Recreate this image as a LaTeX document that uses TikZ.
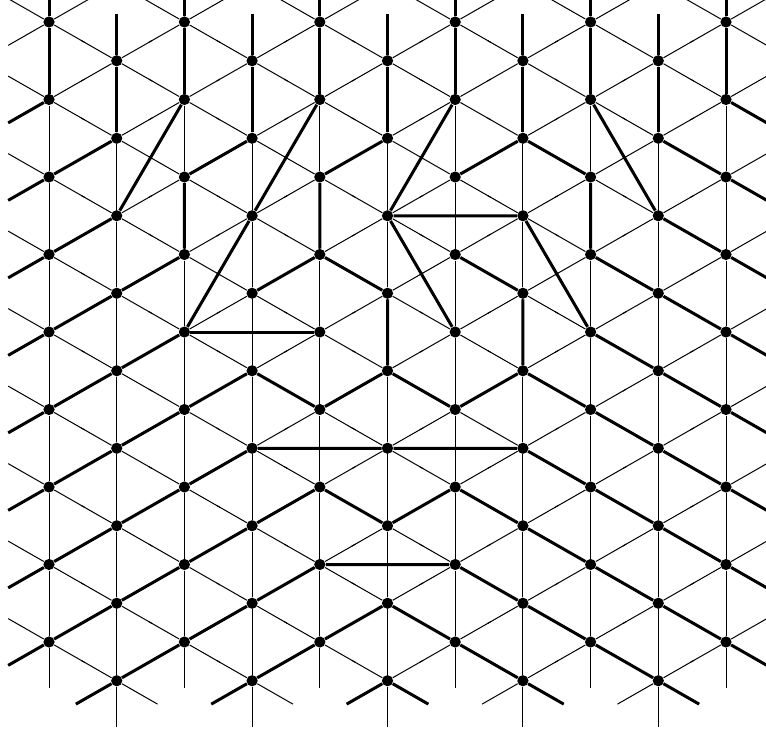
\documentclass[tikz,border=0pt]{standalone}
\usepackage{tikz}

\tikzset{
  lattice/.style={line width=0.5pt},
  bond/.style={line width=1.5pt},
  loose/.style={shorten >=15.5pt},
  dot/.style={circle,fill=black,inner sep=0pt,minimum size=5.6pt},
}

\begin{document}
\begin{tikzpicture}[x=33.85pt,y=-19.375pt]
  \useasboundingbox (-0.724,-0.568) rectangle (10.591,18.374);
  \clip (-0.724,-0.568) rectangle (10.591,18.374);
  % points of the lattice, with a ring of ghost points round them
  \foreach \i in {-1,...,11}
    \foreach \r in {-1,...,9} {
      \pgfmathtruncatemacro{\k}{2*\r+mod(\i+2,2)}
      \coordinate (v\i-\k) at (\i,\k);
    }
  \foreach \i in {0,...,10}
    \foreach \r in {0,...,8} {
      \pgfmathtruncatemacro{\k}{2*\r+mod(\i,2)}
      \node[dot] (v\i-\k) at (\i,\k) {};
    }
  % thin lattice: half edges from every point
  \foreach \i in {0,...,10}
    \foreach \r in {0,...,8}
      \foreach \di/\dk in {0/2,0/-2,1/1,1/-1,-1/1,-1/-1} {
        \pgfmathtruncatemacro{\k}{2*\r+mod(\i,2)}
        \pgfmathtruncatemacro{\ni}{\i+\di}
        \pgfmathtruncatemacro{\nk}{\k+\dk}
        \draw[lattice,loose] (v\i-\k) -- (v\ni-\nk);
      }
  % top row
  \foreach \i in {0,2,...,10} {
    \draw[bond] (v\i-0) -- (v\i-2);
    \draw[bond,loose] (v\i-0) -- (v\i--2);
  }
  \foreach \i in {1,3,...,9} {
    \draw[bond] (v\i-1) -- (v\i-3);
    \draw[bond,loose] (v\i-1) -- (v\i--1);
  }
  % left part
  \draw[bond] (v1-3) -- (v0-4);
  \draw[bond] (v2-2) -- (v1-5) -- (v0-6);
  \draw[bond] (v3-3) -- (v2-4) -- (v2-6) -- (v1-7) -- (v0-8);
  \draw[bond] (v4-2) -- (v3-5) -- (v2-8) -- (v1-9) -- (v0-10);
  \draw[bond] (v2-8) -- (v4-8);
  \draw[bond] (v5-3) -- (v4-4) -- (v4-6) -- (v3-7);
  \draw[bond] (v4-6) -- (v5-7) -- (v5-9) -- (v4-10) -- (v3-9) -- (v2-10)
    -- (v1-11) -- (v0-12);
  \draw[bond] (v5-9) -- (v6-10) -- (v7-9) -- (v7-7) -- (v6-6);
  \draw[bond] (v7-9) -- (v8-10) -- (v9-11) -- (v10-12);
  % lower part
  \draw[bond] (v0-14) -- (v1-13) -- (v2-12) -- (v3-11) -- (v5-11) -- (v7-11)
    -- (v8-12) -- (v9-13) -- (v10-14);
  \draw[bond] (v0-16) -- (v1-15) -- (v2-14) -- (v3-13) -- (v4-12) -- (v5-13)
    -- (v6-12) -- (v7-13) -- (v8-14) -- (v9-15) -- (v10-16);
  \draw[bond] (v1-17) -- (v2-16) -- (v3-15) -- (v4-14) -- (v6-14) -- (v7-15)
    -- (v8-16) -- (v9-17);
  \draw[bond] (v3-17) -- (v4-16) -- (v5-15) -- (v6-16) -- (v7-17);
  % right part
  \draw[bond] (v6-2) -- (v5-5) -- (v7-5) -- (v8-8) -- (v9-9) -- (v10-10);
  \draw[bond] (v5-5) -- (v6-8);
  \draw[bond] (v6-4) -- (v7-3) -- (v8-4) -- (v8-6) -- (v9-7) -- (v10-8);
  \draw[bond] (v8-2) -- (v9-5) -- (v10-6);
  \draw[bond] (v9-3) -- (v10-4);
  % loose ends at the rim
  \foreach \a/\b in {0-2/-1-3, 0-4/-1-5, 0-6/-1-7, 0-8/-1-9, 0-10/-1-11,
      0-12/-1-13, 0-14/-1-15, 0-16/-1-17, 1-17/0-18, 3-17/2-18, 5-17/4-18,
      5-17/6-18, 7-17/8-18, 9-17/10-18, 10-16/11-17, 10-14/11-15,
      10-12/11-13, 10-10/11-11, 10-8/11-9, 10-6/11-7, 10-4/11-5, 10-2/11-3}
    \draw[bond,loose] (v\a) -- (v\b);
\end{tikzpicture}
\end{document}
